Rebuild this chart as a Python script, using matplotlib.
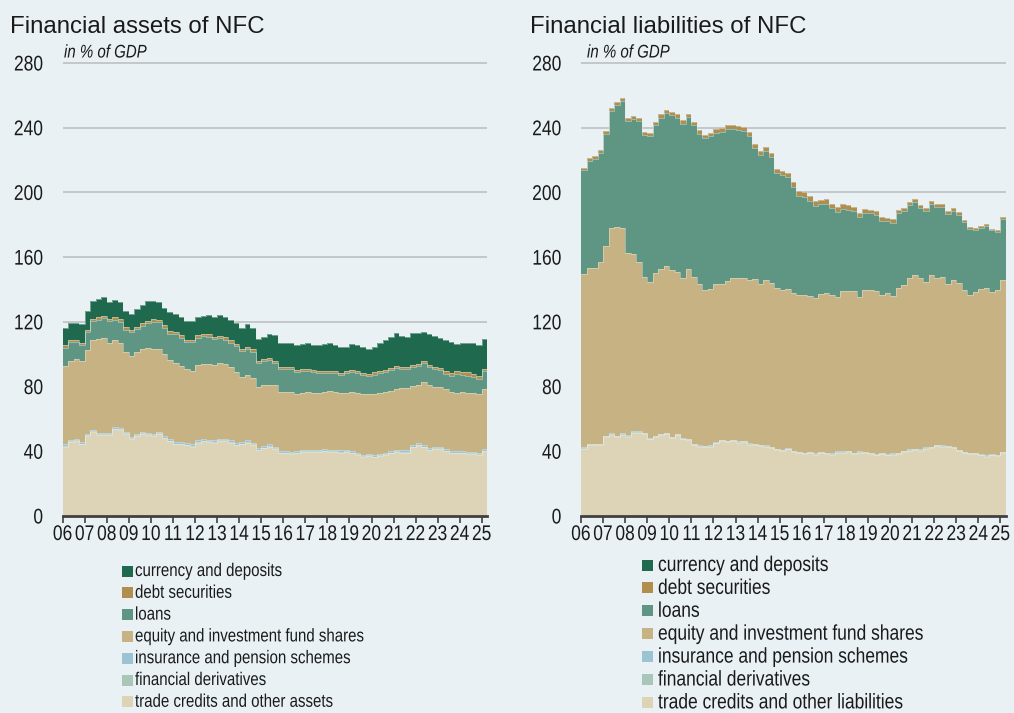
import numpy as np
import matplotlib
matplotlib.use("Agg")
import matplotlib.pyplot as plt
from matplotlib.patches import Rectangle
from matplotlib.patheffects import AbstractPathEffect
from matplotlib.transforms import Affine2D

# ---------------- data (quarterly, 2006Q1 .. 2025Q1), % of GDP ----------------
first_year = 2006
tick_years = list(range(2006, 2026))
tick_labels = ["06", "07", "08", "09", "10", "11", "12", "13", "14", "15",
               "16", "17", "18", "19", "20", "21", "22", "23", "24", "25"]
y_ticks = [0, 40, 80, 120, 160, 200, 240, 280]

categories = ["currency and deposits", "debt securities", "loans",
              "equity and investment fund shares", "insurance and pension schemes",
              "financial derivatives"]
assets_last_label = "trade credits and other assets"
liab_last_label = "trade credits and other liabilities"

# ---- Financial assets ----
assets_trade = [42.9, 45.8, 46.6, 44.5, 49.5, 52.0, 50.3, 50.3, 50.3, 53.6,
                53.2, 50.7, 47.8, 49.5, 50.7, 50.3, 49.5, 50.7, 48.2, 46.2,
                44.5, 44.5, 43.7, 42.9, 45.4, 46.2, 45.8, 45.4, 46.6, 46.6,
                45.4, 43.7, 44.5, 45.4, 44.1, 40.8, 42.0, 42.9, 41.6, 38.8,
                38.8, 38.4, 38.8, 39.6, 39.6, 39.6, 39.6, 40.0, 39.6, 39.6,
                39.2, 39.6, 38.8, 37.9, 36.7, 37.1, 36.3, 37.1, 37.9, 38.8,
                39.6, 39.2, 39.2, 42.5, 43.7, 42.5, 40.8, 41.6, 41.6, 40.0,
                38.8, 38.8, 38.8, 38.4, 38.4, 37.9, 40.0]
assets_derivatives = [0.3, 0.3, 0.3, 0.3, 0.3, 0.3, 0.3, 0.3, 0.3, 0.3,
                      0.3, 0.3, 0.3, 0.3, 0.3, 0.3, 0.3, 0.3, 0.3, 0.3,
                      0.3, 0.3, 0.3, 0.3, 0.3, 0.3, 0.3, 0.3, 0.3, 0.3,
                      0.3, 0.3, 0.3, 0.3, 0.3, 0.3, 0.3, 0.3, 0.3, 0.3,
                      0.3, 0.3, 0.3, 0.3, 0.3, 0.3, 0.3, 0.3, 0.3, 0.3,
                      0.3, 0.3, 0.3, 0.3, 0.3, 0.3, 0.3, 0.3, 0.3, 0.3,
                      0.3, 0.3, 0.3, 0.3, 0.3, 0.3, 0.3, 0.3, 0.3, 0.3,
                      0.3, 0.3, 0.3, 0.3, 0.3, 0.3, 0.3]
assets_insurance = [1.0, 1.0, 1.0, 1.0, 1.0, 1.0, 1.0, 1.0, 1.0, 1.0,
                    1.0, 1.0, 1.0, 1.0, 1.0, 1.0, 1.0, 1.0, 1.0, 1.0,
                    1.0, 1.0, 1.0, 1.0, 1.0, 1.0, 1.0, 1.0, 1.0, 1.0,
                    1.0, 1.0, 1.0, 1.0, 1.0, 1.0, 1.0, 1.0, 1.0, 1.0,
                    1.0, 1.0, 1.0, 1.0, 1.0, 1.0, 1.0, 1.0, 1.0, 1.0,
                    1.0, 1.0, 1.0, 1.0, 1.0, 1.0, 1.0, 1.0, 1.0, 1.0,
                    1.0, 1.0, 1.0, 1.0, 1.0, 1.0, 1.0, 1.0, 1.0, 1.0,
                    1.0, 1.0, 1.0, 1.0, 1.0, 1.0, 1.0]
assets_equity = [48.6, 49.0, 49.0, 49.9, 51.5, 55.6, 58.1, 58.5, 55.6, 54.0,
                 52.3, 49.4, 49.9, 50.6, 51.1, 52.3, 52.3, 51.1, 50.7, 49.0,
                 49.0, 47.0, 46.1, 45.7, 46.9, 46.5, 46.9, 46.5, 46.5, 46.1,
                 45.3, 44.1, 40.4, 40.3, 40.0, 37.9, 37.5, 37.0, 38.3, 36.6,
                 36.6, 37.0, 35.4, 35.4, 35.8, 35.4, 35.4, 35.4, 36.2, 35.8,
                 35.8, 35.4, 36.6, 36.7, 37.1, 36.7, 37.9, 37.5, 37.5, 37.0,
                 37.9, 38.7, 38.7, 36.6, 36.2, 39.1, 38.7, 36.7, 36.7, 37.1,
                 36.6, 35.8, 36.6, 36.6, 36.6, 35.9, 37.1]
assets_loans = [11.3, 11.3, 10.5, 10.0, 11.2, 11.6, 11.7, 12.1, 13.3, 12.5,
                13.3, 13.8, 14.5, 14.2, 14.6, 15.4, 17.0, 16.6, 16.2, 16.2,
                17.5, 17.5, 16.3, 17.5, 16.7, 17.1, 16.7, 16.2, 15.4, 15.0,
                15.0, 15.8, 15.8, 16.2, 16.2, 14.6, 15.0, 15.0, 13.2, 14.0,
                14.4, 14.0, 13.5, 13.1, 13.1, 12.7, 12.3, 11.9, 11.5, 11.5,
                10.6, 12.3, 12.3, 12.3, 11.8, 11.4, 11.9, 12.3, 12.3, 13.1,
                12.7, 11.5, 11.9, 11.5, 11.5, 11.9, 11.5, 11.1, 10.4, 9.5,
                9.9, 11.6, 10.4, 10.4, 9.5, 9.5, 11.2]
assets_debt = [1.5, 1.5, 1.5, 1.5, 1.5, 1.5, 1.5, 1.5, 1.5, 1.5,
               1.5, 1.5, 1.5, 1.5, 1.5, 1.5, 1.5, 1.5, 1.5, 1.5,
               1.5, 1.5, 1.5, 1.5, 1.5, 1.5, 1.5, 1.5, 1.5, 1.5,
               1.5, 1.5, 1.5, 1.5, 1.5, 1.5, 1.5, 1.5, 1.3, 1.3,
               1.3, 1.3, 1.3, 1.3, 1.3, 1.3, 1.3, 1.3, 1.3, 1.3,
               1.3, 1.3, 1.3, 1.3, 1.3, 1.3, 1.3, 1.3, 1.3, 1.3,
               1.3, 1.3, 1.3, 1.3, 1.3, 1.3, 1.3, 1.3, 1.5, 2.0,
               2.0, 2.0, 2.0, 2.0, 2.0, 2.0, 1.5]
assets_currency = [10.7, 10.3, 10.7, 11.2, 11.6, 10.8, 11.1, 11.6, 10.4, 10.7,
                   10.8, 10.3, 10.0, 11.1, 11.1, 12.0, 11.2, 10.8, 10.8, 11.6,
                   11.2, 11.1, 11.5, 11.5, 11.5, 11.1, 11.9, 12.0, 12.8, 12.8,
                   12.7, 12.8, 12.8, 14.1, 13.2, 13.6, 13.6, 14.5, 16.1, 15.2,
                   14.8, 14.8, 15.3, 15.7, 15.7, 15.7, 15.7, 16.5, 16.9, 16.5,
                   16.1, 14.4, 16.1, 16.5, 16.5, 15.7, 16.0, 17.7, 18.6, 19.0,
                   20.6, 19.3, 18.1, 19.8, 19.0, 17.7, 19.0, 19.3, 18.6, 18.6,
                   19.0, 16.9, 18.1, 18.1, 19.0, 19.4, 18.6]

# ---- Financial liabilities ----
liab_trade = [41.6, 43.7, 43.7, 43.7, 48.7, 50.3, 48.7, 50.3, 49.1, 51.5,
              51.5, 50.7, 47.4, 48.7, 49.9, 50.7, 48.2, 49.9, 47.4, 47.0,
              43.7, 42.9, 42.5, 42.9, 44.9, 46.2, 45.8, 46.2, 45.4, 45.8,
              44.1, 43.7, 43.3, 42.9, 42.1, 40.8, 40.0, 41.2, 39.6, 38.8,
              38.4, 38.8, 37.9, 38.8, 38.4, 37.9, 39.2, 39.2, 39.6, 38.4,
              39.2, 38.8, 38.4, 37.5, 38.4, 37.5, 37.9, 38.4, 39.6, 40.4,
              40.8, 40.4, 41.6, 42.1, 43.3, 42.9, 42.5, 42.1, 40.0, 38.8,
              38.4, 38.4, 37.5, 36.7, 37.5, 37.1, 38.8]
liab_derivatives = [0.5, 0.5, 0.5, 0.5, 0.5, 0.5, 0.5, 0.5, 0.5, 0.5,
                    0.5, 0.5, 0.5, 0.5, 0.5, 0.5, 0.5, 0.5, 0.5, 0.5,
                    0.5, 0.5, 0.5, 0.5, 0.5, 0.5, 0.5, 0.5, 0.5, 0.5,
                    0.5, 0.5, 0.5, 0.5, 0.5, 0.5, 0.5, 0.5, 0.5, 0.5,
                    0.5, 0.5, 0.5, 0.5, 0.5, 0.5, 0.5, 0.5, 0.5, 0.5,
                    0.5, 0.5, 0.5, 0.5, 0.5, 0.5, 0.5, 0.5, 0.5, 0.5,
                    0.5, 0.5, 0.5, 0.5, 0.5, 0.5, 0.5, 0.5, 0.5, 0.5,
                    0.5, 0.5, 0.5, 0.5, 0.5, 0.5, 0.5]
liab_insurance = [0.3, 0.3, 0.3, 0.3, 0.3, 0.3, 0.3, 0.3, 0.3, 0.3,
                  0.3, 0.3, 0.3, 0.3, 0.3, 0.3, 0.3, 0.3, 0.3, 0.3,
                  0.3, 0.3, 0.3, 0.3, 0.3, 0.3, 0.3, 0.3, 0.3, 0.3,
                  0.3, 0.3, 0.3, 0.3, 0.3, 0.3, 0.3, 0.3, 0.3, 0.3,
                  0.3, 0.3, 0.3, 0.3, 0.3, 0.3, 0.3, 0.3, 0.3, 0.3,
                  0.3, 0.3, 0.3, 0.3, 0.3, 0.3, 0.3, 0.3, 0.3, 0.3,
                  0.3, 0.3, 0.3, 0.3, 0.3, 0.3, 0.3, 0.3, 0.3, 0.3,
                  0.3, 0.3, 0.3, 0.3, 0.3, 0.3, 0.3]
liab_equity = [106.9, 108.9, 108.9, 112.6, 117.1, 127.0, 129.1, 127.0, 112.6, 109.8,
               104.8, 96.1, 96.5, 100.6, 101.9, 103.1, 103.2, 100.2, 99.0, 104.8,
               103.5, 99.4, 96.5, 96.9, 97.4, 96.5, 98.6, 100.2, 100.6, 100.6,
               101.1, 101.9, 99.4, 101.9, 101.0, 99.4, 99.0, 98.2, 97.7, 97.3,
               97.3, 96.5, 96.1, 97.7, 98.5, 97.8, 95.3, 99.0, 98.6, 99.8,
               95.3, 100.2, 100.6, 100.7, 97.7, 99.4, 97.4, 101.8, 102.3, 106.0,
               107.3, 105.6, 102.3, 106.0, 103.1, 103.9, 100.2, 102.7, 103.1, 100.2,
               97.7, 99.4, 101.9, 103.5, 100.3, 101.5, 106.4]
liab_loans = [64.5, 66.1, 67.4, 67.4, 69.5, 72.1, 75.7, 78.2, 81.9, 83.1,
              86.9, 87.7, 90.0, 91.6, 93.6, 94.5, 95.7, 95.3, 95.3, 94.1,
              93.7, 93.3, 93.7, 94.1, 93.6, 93.6, 93.9, 91.9, 91.9, 90.7,
              89.0, 80.8, 79.6, 79.9, 77.9, 70.9, 70.9, 69.3, 65.3, 61.1,
              60.7, 58.6, 57.0, 55.4, 55.4, 53.7, 52.8, 50.8, 50.4, 49.5,
              49.7, 47.7, 47.3, 47.3, 45.6, 44.4, 45.2, 46.5, 46.0, 44.8,
              45.2, 43.6, 44.0, 43.9, 43.6, 43.6, 43.2, 43.1, 42.3, 41.7,
              40.5, 38.3, 38.0, 38.0, 37.9, 36.3, 37.5]
liab_debt = [1.5, 1.5, 1.5, 1.5, 1.8, 1.8, 1.8, 1.8, 1.8, 1.8,
             1.8, 1.8, 2.0, 2.0, 2.0, 2.0, 2.0, 2.0, 2.0, 2.0,
             2.0, 2.0, 2.0, 2.0, 2.5, 2.5, 2.5, 2.5, 2.5, 2.5,
             2.5, 2.5, 2.5, 2.5, 2.5, 2.5, 2.5, 2.5, 2.8, 2.8,
             2.8, 2.8, 2.8, 2.8, 2.8, 2.8, 2.8, 2.8, 2.8, 2.8,
             2.2, 2.2, 2.2, 2.2, 2.2, 2.2, 2.2, 1.8, 1.8, 1.8,
             1.8, 1.8, 1.8, 1.8, 1.8, 1.8, 1.8, 1.8, 1.8, 1.2,
             1.2, 1.2, 1.2, 1.2, 1.2, 1.2, 1.2]

# ---------------- style ----------------
BG = "#e9f1f5"
C_CUR = "#1f6a4f"
C_DEBT = "#b08f4e"
C_LOANS = "#5f9683"
C_EQ = "#c6b282"
C_INS = "#9cc3d3"
C_DER = "#a9c7b9"
C_TRADE = "#ddd3b6"
TXT = "#1a1a1a"
FONT = ["Liberation Sans", "DejaVu Sans"]
NARROW_X = 0.82   # Arial Narrow is ~82% of the width of Arial


class Condense(AbstractPathEffect):
    """Draw text horizontally condensed (a narrow face is not installed)."""

    def __init__(self, sx=NARROW_X, anchor="left"):
        super().__init__()
        self.sx = sx
        self.anchor = anchor

    def draw_path(self, renderer, gc, tpath, affine, rgbFace=None):
        v = tpath.vertices
        if len(v) and self.anchor != "left":
            x0, x1 = float(v[:, 0].min()), float(v[:, 0].max())
            a = x1 if self.anchor == "right" else 0.5 * (x0 + x1)
        else:
            a = 0.0
        t = Affine2D().translate(-a, 0).scale(self.sx, 1).translate(a, 0)
        renderer.draw_path(gc, tpath, t + affine, rgbFace)


W, H = 1014, 713
fig = plt.figure(figsize=(W / 100, H / 100), dpi=100, facecolor=BG)

Y_TOP = 281.0
px_per_unit = 453.0 / 280.0
ax_h_px = Y_TOP * px_per_unit


def make_axes(left_px, width_px):
    bottom_px = H - 516
    return fig.add_axes([left_px / W, bottom_px / H, width_px / W, ax_h_px / H])


def draw_panel(ax, layers):
    n = len(layers[0][0])
    x = first_year + 0.25 * np.arange(n + 1)
    base = np.zeros(n)
    for vals, color in layers:
        top = base + np.asarray(vals, dtype=float)
        ax.fill_between(x, np.append(base, base[-1]), np.append(top, top[-1]),
                        step="post", color=color, lw=0, zorder=2)
        ax.step(x, np.append(top, top[-1]), where="post", color="#e6ece8",
                lw=0.5, alpha=0.6, zorder=3)
        base = top
    ax.set_facecolor(BG)
    ax.set_xlim(first_year, first_year + 0.25 * n)
    ax.set_ylim(0, Y_TOP)
    ax.set_yticks(y_ticks)
    ax.set_yticklabels([str(v) for v in y_ticks], fontfamily=FONT,
                       fontsize=15.3, color=TXT)
    ax.set_xticks(tick_years)
    ax.set_xticklabels(tick_labels, fontfamily=FONT, fontsize=15.3, color=TXT)
    for t in ax.get_yticklabels():
        t.set_path_effects([Condense(anchor="right")])
    for t in ax.get_xticklabels():
        t.set_path_effects([Condense(anchor="center")])
    ax.tick_params(axis="y", length=0, pad=14)
    ax.tick_params(axis="x", length=5, width=1.2, color="#404040", pad=1.5,
                   direction="out")
    for s in ["top", "left", "right"]:
        ax.spines[s].set_visible(False)
    ax.spines["bottom"].set_color("#404040")
    ax.spines["bottom"].set_linewidth(2)
    ax.spines["bottom"].set_zorder(4)
    ax.grid(axis="y", color="#c2c4c6", lw=1.3, zorder=1)
    ax.set_axisbelow(True)


ax1 = make_axes(62.7, 424.6)
draw_panel(ax1, [(assets_trade, C_TRADE), (assets_derivatives, C_DER),
                 (assets_insurance, C_INS), (assets_equity, C_EQ),
                 (assets_loans, C_LOANS), (assets_debt, C_DEBT),
                 (assets_currency, C_CUR)])

ax2 = make_axes(581.0, 425.0)
draw_panel(ax2, [(liab_trade, C_TRADE), (liab_derivatives, C_DER),
                 (liab_insurance, C_INS), (liab_equity, C_EQ),
                 (liab_loans, C_LOANS), (liab_debt, C_DEBT)])

# ---------------- overlay for titles and legends (pixel coords) ----------------
ov = fig.add_axes([0, 0, 1, 1], zorder=10)
ov.set_xlim(0, W)
ov.set_ylim(H, 0)
ov.axis("off")
ov.patch.set_alpha(0)

ov.text(10, 33, "Financial assets of NFC", fontfamily=FONT, fontsize=17.3,
        color=TXT, va="baseline", ha="left")
ov.text(530, 33, "Financial liabilities of NFC", fontfamily=FONT, fontsize=17.3,
        color=TXT, va="baseline", ha="left")
for xs in (64, 587):
    ov.text(xs, 57.5, "in % of GDP", fontfamily=FONT, fontsize=13.2,
            style="italic", color=TXT, va="baseline", ha="left",
            path_effects=[Condense()])

colors = [C_CUR, C_DEBT, C_LOANS, C_EQ, C_INS, C_DER, C_TRADE]


def legend(x_mark, x_text, y0, dy, size, labels):
    for k, (lab, col) in enumerate(zip(labels, colors)):
        yc = y0 + dy * k
        ov.add_patch(Rectangle((x_mark, yc - 5.5), 11, 11, facecolor=col,
                               edgecolor="none"))
        ov.text(x_text, yc + 0.5, lab, fontfamily=FONT, fontsize=size,
                color=TXT, va="center", ha="left", path_effects=[Condense()])


legend(121.5, 135, 571, 21.8, 13.2, categories + [assets_last_label])
legend(642, 658, 565, 22.9, 15.3, categories + [liab_last_label])

fig.savefig("out.png", dpi=100, facecolor=BG)
